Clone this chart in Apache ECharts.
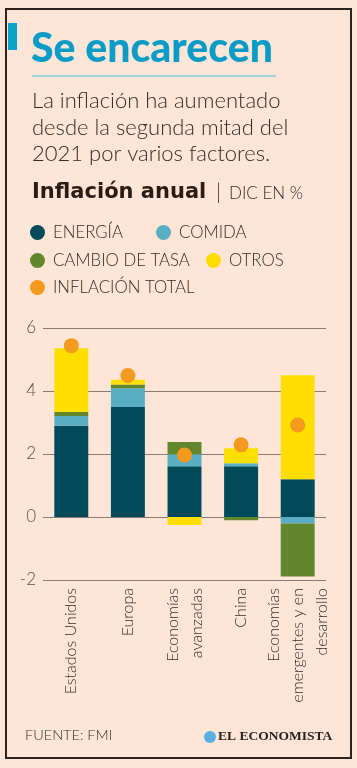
<!DOCTYPE html>
<html>
<head>
<meta charset="utf-8">
<script src="https://cdn.jsdelivr.net/npm/echarts@6/dist/echarts.min.js"></script>
<style>
html,body{margin:0;padding:0;background:#fde6d8;}
#c{width:357px;height:768px;}
</style>
</head>
<body>
<div id="c"></div>
<script>
const categories = ['Estados Unidos', 'Europa', 'Economías\navanzadas', 'China', 'Economías\nemergentes y en\ndesarrollo'];
const energia = [2.90, 3.49, 1.61, 1.61, 1.20];
const comida = [0.31, 0.60, 0.38, 0.10, -0.21];
const cambioTasa = [0.12, 0.12, 0.39, -0.10, -1.68];
const otros = [2.03, 0.15, -0.25, 0.47, 3.30];
const inflacionTotal = [5.44, 4.49, 1.97, 2.29, 2.92];
const yTicks = [-2, 0, 2, 4, 6];

const TXT = '#3a2a22';
const FONT = 'Lato';
// small per-label nudges (rotated label padding: top shifts right, bottom shifts left)
const labelPads = [[0,0,12,0], [0,0,0,0], [4,0,0,0], [4,0,0,0], [14,0,0,0]];
const chart = echarts.init(document.getElementById('c'), null, {renderer: 'canvas'});

function leg(name, left, top) {
  return {
    data: [name], left: left, top: top, icon: 'circle', itemWidth: 15, itemHeight: 15,
    padding: 0, itemGap: 0, selectedMode: false,
    textStyle: {fontFamily: FONT, fontWeight: 300, fontSize: 16.8, color: TXT, padding: [0,0,0,3]}
  };
}

chart.setOption({
  backgroundColor: '#fde6d8',
  animation: false,
  grid: {left: 43, right: 31, top: 328, bottom: 188, containLabel: false},
  legend: [
    leg('ENERGÍA', 30, 224),
    leg('COMIDA', 156, 224),
    leg('CAMBIO DE TASA', 30, 252),
    leg('OTROS', 206, 252),
    leg('INFLACIÓN TOTAL', 30, 279)
  ],
  xAxis: {
    type: 'category',
    data: categories.map((c, i) => ({value: c, textStyle: {padding: labelPads[i]}})),
    axisLine: {show: false, onZero: false}, axisTick: {show: false},
    axisLabel: {rotate: 90, margin: 8, interval: 0, fontFamily: FONT, fontWeight: 300, fontSize: 16, lineHeight: 24, color: TXT}
  },
  yAxis: {
    type: 'value', min: yTicks[0], max: yTicks[yTicks.length - 1], interval: 2,
    axisLine: {show: false}, axisTick: {show: false},
    axisLabel: {margin: 7, fontFamily: FONT, fontWeight: 300, fontSize: 17, color: '#5c4f48'},
    splitLine: {lineStyle: {color: '#8a7c73', width: 1}}
  },
  series: [
    {name: 'ENERGÍA', type: 'bar', stack: 's', data: energia, barWidth: '60%', itemStyle: {color: '#004a5a'}},
    {name: 'COMIDA', type: 'bar', stack: 's', data: comida, itemStyle: {color: '#5aaec4'}},
    {name: 'CAMBIO DE TASA', type: 'bar', stack: 's', data: cambioTasa, itemStyle: {color: '#62862c'}},
    {name: 'OTROS', type: 'bar', stack: 's', data: otros, itemStyle: {color: '#ffde00'}},
    {name: 'INFLACIÓN TOTAL', type: 'scatter', data: inflacionTotal, symbolSize: 15, z: 5, itemStyle: {color: '#f39a1f', opacity: 1}}
  ],
  graphic: [
    {type: 'rect', shape: {x: 6, y: 9, width: 345, height: 749}, style: {fill: 'none', stroke: '#2b2420', lineWidth: 2}, silent: true},
    {type: 'rect', shape: {x: 8, y: 23, width: 9, height: 27}, style: {fill: '#0aa2c8'}, silent: true},
    {type: 'text', left: 31, top: 28, style: {text: 'Se encarecen', fontFamily: FONT, fontWeight: 900, fontSize: 41, fill: '#0a9cc6'}},
    {type: 'line', shape: {x1: 32, y1: 76, x2: 276, y2: 76}, style: {stroke: '#80ccd4', lineWidth: 1.5}, silent: true},
    {type: 'text', left: 32, top: 88, style: {text: 'La inflación ha aumentado\ndesde la segunda mitad del\n2021 por varios factores.', fontFamily: FONT, fontWeight: 300, fontSize: 22, lineHeight: 26.5, fill: TXT}},
    {type: 'text', left: 32, top: 182, style: {text: 'Inflación anual', fontFamily: 'DejaVu Sans', fontWeight: 'bold', fontSize: 21, fill: '#2a1c15'}},
    {type: 'text', left: 216, top: 182, style: {text: '|', fontFamily: FONT, fontWeight: 300, fontSize: 21, fill: TXT}},
    {type: 'text', left: 229, top: 185, style: {text: 'DIC EN %', fontFamily: FONT, fontWeight: 300, fontSize: 17, fill: TXT}},
    {type: 'text', left: 25, top: 728, style: {text: 'FUENTE: FMI', fontFamily: FONT, fontWeight: 300, fontSize: 14.5, fill: TXT}},
    {type: 'circle', shape: {cx: 210, cy: 737, r: 6}, style: {fill: '#5aaee0'}, silent: true},
    {type: 'text', left: 218, top: 730, style: {text: 'EL ECONOMISTA', fontFamily: 'Liberation Serif', fontWeight: 'bold', fontSize: 13.5, fill: '#2a2220'}}
  ]
});
</script>
</body>
</html>
